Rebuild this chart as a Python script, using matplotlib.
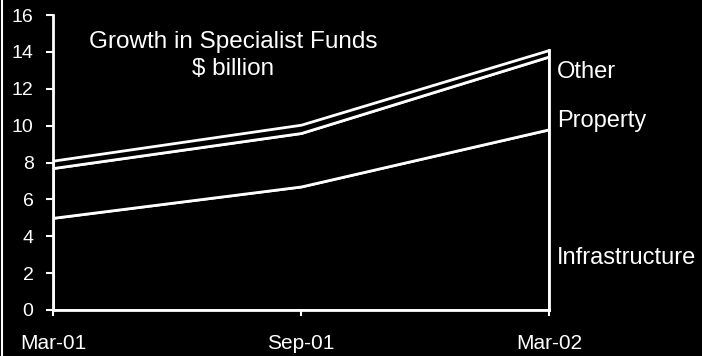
import matplotlib
matplotlib.use("Agg")
import matplotlib.pyplot as plt
from matplotlib.lines import Line2D

# Specialist fund assets, $ billion (stacked bands)
dates = ["Mar-01", "Sep-01", "Mar-02"]
infrastructure = [5.0, 6.7, 9.8]
property_ = [2.7, 2.9, 3.95]
other = [0.4, 0.45, 0.35]
series_names = ["Infrastructure", "Property", "Other"]
yticks = [0, 2, 4, 6, 8, 10, 12, 14, 16]

plt.rcParams["font.family"] = ["Liberation Sans", "DejaVu Sans"]

fig = plt.figure(figsize=(7.02, 3.56), dpi=100, facecolor="black")
ax = fig.add_axes([53 / 702, 1 - 310 / 356, (549 - 53) / 702, (310 - 15) / 356])
ax.set_facecolor("black")

x = list(range(len(dates)))
ax.stackplot(x, infrastructure, property_, other,
             colors=["black", "black", "black"],
             edgecolor="white", linewidth=2.0)

# cumulative tops of each band
cum = []
running = [0.0] * len(x)
for s in (infrastructure, property_, other):
    running = [r + v for r, v in zip(running, s)]
    cum.append(running)

# right-hand edge of the stack
ax.plot([x[-1], x[-1]], [0, cum[-1][-1]], color="white", lw=2.0, clip_on=False)

ax.set_xlim(x[0], x[-1])
ax.set_ylim(0, 16)
ax.set_xticks(x)
ax.set_xticklabels(dates)
ax.set_yticks(yticks)
ax.set_yticklabels([str(t) for t in yticks])

for side in ("top", "right"):
    ax.spines[side].set_visible(False)
for side in ("left", "bottom"):
    ax.spines[side].set_color("white")
    ax.spines[side].set_linewidth(2.0)

ax.tick_params(axis="y", colors="white", length=5, width=1.5,
               labelsize=14, pad=9, direction="out")
ax.tick_params(axis="x", colors="white", length=4, width=1.5,
               labelsize=15, pad=13, direction="out")

# title inside the plot area
ax.text(0.726, 14.55, "Growth in Specialist Funds", color="white",
        fontsize=17.5, ha="center", va="center")
ax.text(0.726, 13.05, "$ billion", color="white",
        fontsize=17.5, ha="center", va="center")

# series labels to the right of the final values
label_y = [2.8, 10.25, 12.9]
for name, yv in zip(series_names, label_y):
    ax.annotate(name, xy=(x[-1], yv), xytext=(6, 0), textcoords="offset points",
                color="white", fontsize=17, ha="left", va="center",
                annotation_clip=False)

# thin frame line on the left edge of the figure
fig.add_artist(Line2D([2 / 702, 2 / 702], [0, 1], transform=fig.transFigure,
                      color="white", lw=1.5))

fig.savefig("out.png", dpi=100, facecolor="black")
